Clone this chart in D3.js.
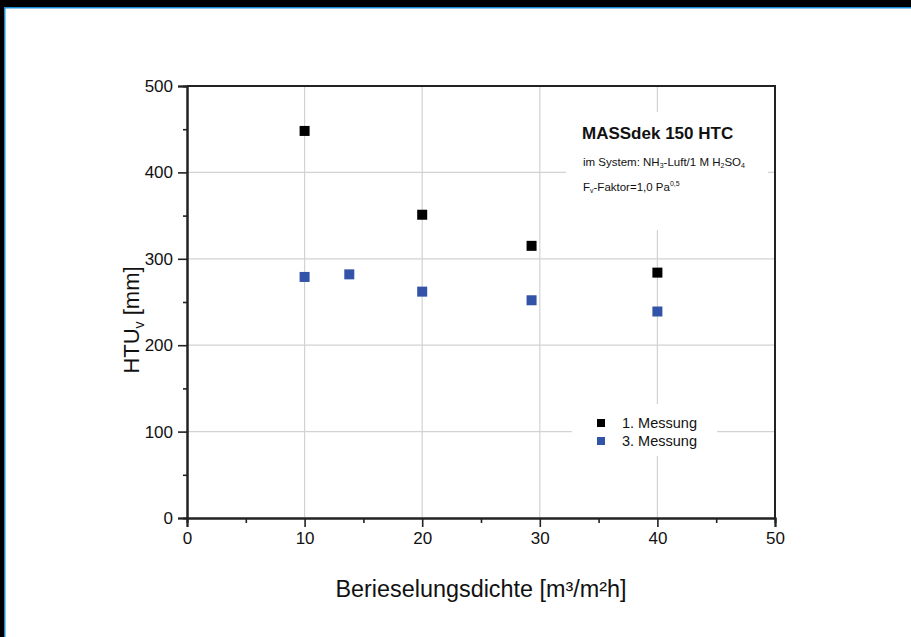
<!DOCTYPE html>
<html>
<head>
<meta charset="utf-8">
<script src="https://cdn.jsdelivr.net/npm/d3@7"></script>
<style>
  body { margin: 0; background: #fff; }
  svg { display: block; font-family: 'Liberation Sans', Arial, sans-serif; }
</style>
</head>
<body>
<svg id="chart" width="911" height="637"></svg>
<script>
// data
const messung1X = [10, 20, 29.3, 40];
const messung1Y = [448, 351, 315, 284];
const messung3X = [10, 13.8, 20, 29.3, 40];
const messung3Y = [279, 282, 262, 252, 239];
const xTicks = [0, 10, 20, 30, 40, 50];
const yTicks = [0, 100, 200, 300, 400, 500];
const legendLabels = ['1. Messung', '3. Messung'];
const seriesColors = ['#000000', '#3253a8'];

const svg = d3.select('#chart');

// frame: black bands top and left with thin blue line
svg.append('rect').attr('x', 0).attr('y', 0).attr('width', 911).attr('height', 7).attr('fill', '#000');
svg.append('rect').attr('x', 0).attr('y', 0).attr('width', 4).attr('height', 637).attr('fill', '#000');
svg.append('rect').attr('x', 4).attr('y', 7).attr('width', 907).attr('height', 1.5).attr('fill', '#1b8fd6');
svg.append('rect').attr('x', 4).attr('y', 7).attr('width', 1.5).attr('height', 630).attr('fill', '#1b8fd6');

const x = d3.scaleLinear().domain([0, 50]).range([187, 775]);
const y = d3.scaleLinear().domain([0, 500]).range([518, 86]);

const g = svg.append('g');

// grid
g.selectAll('line.gx').data(xTicks.filter(d => d > 0 && d < 50)).join('line')
  .classed('gx', true)
  .attr('x1', d => x(d)).attr('x2', d => x(d))
  .attr('y1', y(500)).attr('y2', y(0))
  .attr('stroke', '#d2d2d2').attr('stroke-width', 1.2);
g.selectAll('line.gy').data(yTicks.filter(d => d > 0 && d < 500)).join('line')
  .classed('gy', true)
  .attr('x1', x(0)).attr('x2', x(50))
  .attr('y1', d => y(d)).attr('y2', d => y(d))
  .attr('stroke', '#d2d2d2').attr('stroke-width', 1.2);

// white boxes behind the annotation and legend
g.append('rect').attr('x', 566).attr('y', 112).attr('width', 202).attr('height', 118).attr('fill', '#fff');
g.append('rect').attr('x', 572).attr('y', 404).attr('width', 145).attr('height', 52).attr('fill', '#fff');

// border (top and right)
g.append('path')
  .attr('d', `M${x(0)},${y(500)}H${x(50)}V${y(0)}`)
  .attr('fill', 'none').attr('stroke', '#222').attr('stroke-width', 2);

// axes
const xAxis = g.append('g').attr('transform', `translate(0,${y(0)})`)
  .call(d3.axisBottom(x).tickValues(xTicks).tickSize(9).tickPadding(5).tickFormat(d3.format('d')));
const xMinor = g.append('g').attr('transform', `translate(0,${y(0)})`)
  .call(d3.axisBottom(x).tickValues([5, 15, 25, 35, 45]).tickSize(5).tickFormat(''));
const yAxis = g.append('g').attr('transform', `translate(${x(0)},0)`)
  .call(d3.axisLeft(y).tickValues(yTicks).tickSize(9).tickPadding(5).tickFormat(d3.format('d')));
const yMinor = g.append('g').attr('transform', `translate(${x(0)},0)`)
  .call(d3.axisLeft(y).tickValues([50, 150, 250, 350, 450]).tickSize(4).tickFormat(''));

[xAxis, xMinor, yAxis, yMinor].forEach(a => {
  a.select('.domain').attr('stroke', '#222').attr('stroke-width', 2);
  a.selectAll('.tick line').attr('stroke', '#222').attr('stroke-width', 1.6);
  a.selectAll('.tick text').attr('fill', '#111').style('font-size', '17px')
    .style('font-family', "'Liberation Sans', Arial, sans-serif");
});

// axis titles
svg.append('text')
  .attr('x', 481).attr('y', 597)
  .attr('text-anchor', 'middle')
  .style('font-size', '23px').attr('fill', '#111')
  .attr('textLength', 291).attr('lengthAdjust', 'spacingAndGlyphs')
  .text('Berieselungsdichte [m³/m²h]');

const yTitle = svg.append('text')
  .attr('transform', 'translate(139,320) rotate(-90)')
  .attr('text-anchor', 'middle')
  .style('font-size', '22px').attr('fill', '#111');
yTitle.append('tspan').text('HTU');
yTitle.append('tspan').attr('dy', 5).style('font-size', '14px').text('v');
yTitle.append('tspan').attr('dy', -5).text(' [mm]');

// points
const sq = 10;
const series = [
  { xs: messung1X, ys: messung1Y, color: seriesColors[0] },
  { xs: messung3X, ys: messung3Y, color: seriesColors[1] }
];
series.forEach(s => {
  g.selectAll(null).data(s.xs.map((d, i) => [d, s.ys[i]])).join('rect')
    .attr('x', d => x(d[0]) - sq / 2)
    .attr('y', d => y(d[1]) - sq / 2)
    .attr('width', sq).attr('height', sq)
    .attr('fill', s.color);
});

// annotation
const ann = svg.append('g').attr('fill', '#111');
ann.append('text').attr('x', 582).attr('y', 139)
  .style('font-size', '17px').style('font-weight', 'bold').text('MASSdek 150 HTC');
const l2 = ann.append('text').attr('x', 583).attr('y', 166).style('font-size', '11.5px');
l2.append('tspan').text('im System: NH');
l2.append('tspan').attr('dy', 2).style('font-size', '7px').text('3');
l2.append('tspan').attr('dy', -2).text('-Luft/1 M H');
l2.append('tspan').attr('dy', 2).style('font-size', '7px').text('2');
l2.append('tspan').attr('dy', -2).text('SO');
l2.append('tspan').attr('dy', 2).style('font-size', '7px').text('4');
const l3 = ann.append('text').attr('x', 583).attr('y', 191).style('font-size', '11.5px');
l3.append('tspan').text('F');
l3.append('tspan').attr('dy', 2).style('font-size', '7px').text('v');
l3.append('tspan').attr('dy', -2).text('-Faktor=1,0 Pa');
l3.append('tspan').attr('dy', -5).style('font-size', '7px').text('0,5');

// legend
const leg = svg.append('g').selectAll('g').data(legendLabels).join('g')
  .attr('transform', (d, i) => `translate(601,${423 + i * 18})`);
leg.append('rect').attr('x', -4).attr('y', -4).attr('width', 8).attr('height', 8)
  .attr('fill', (d, i) => seriesColors[i]);
leg.append('text').attr('x', 21).attr('y', 5)
  .style('font-size', '14.5px').attr('fill', '#111').text(d => d);
</script>
</body>
</html>
